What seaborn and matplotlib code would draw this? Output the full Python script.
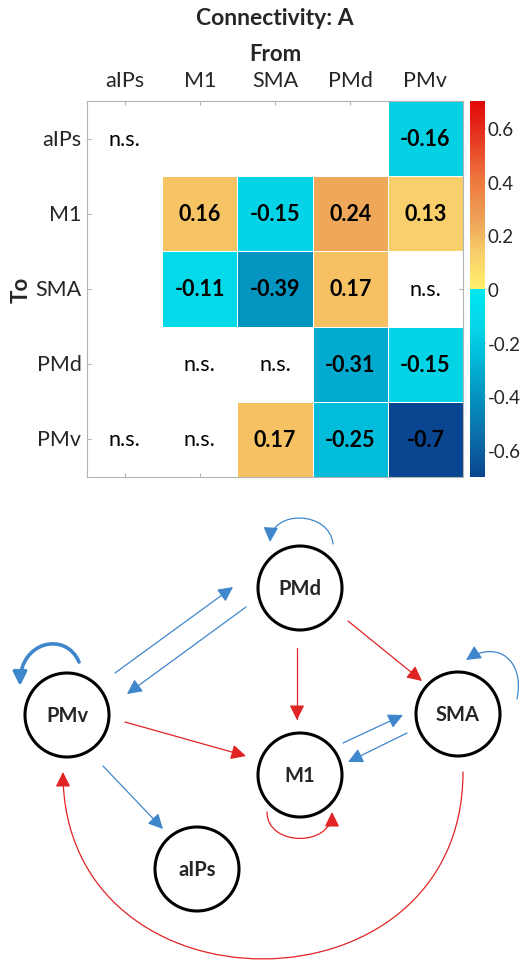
import numpy as np
import pandas as pd
import matplotlib
matplotlib.use("Agg")
import matplotlib.pyplot as plt
import seaborn as sns
from matplotlib.colors import LinearSegmentedColormap
from matplotlib.patches import Circle, FancyArrowPatch
from matplotlib.path import Path

# ==========================================
# DATA
# ==========================================
regions = ["aIPs", "M1", "SMA", "PMd", "PMv"]

# rows = "To", columns = "From"; nan = empty cell
conn_vals = [
    [np.nan, np.nan, np.nan, np.nan, -0.16],
    [np.nan, 0.16, -0.15, 0.24, 0.13],
    [np.nan, -0.11, -0.39, 0.17, np.nan],
    [np.nan, np.nan, np.nan, -0.31, -0.15],
    [np.nan, np.nan, 0.17, -0.25, -0.70],
]
# (row, col) of non significant cells
ns_cells = [(0, 0), (2, 4), (3, 1), (3, 2), (4, 0), (4, 1)]

cbar_ticks = [0.6, 0.4, 0.2, 0, -0.2, -0.4, -0.6]

# ==========================================
# DIAGRAM LAYOUT (pixel space of the figure)
# ==========================================
node_pos = {"PMd": (300, 589), "PMv": (67, 716), "SMA": (458, 715),
            "M1": (300, 776), "aIPs": (197, 870)}
NODE_R = 42

# route of every edge (src, dst): 2 points = straight, 4 points = cubic bezier
edge_routes = {
    ("PMd", "PMd"): [(333, 545), (330, 512), (272, 510), (270, 543)],
    ("PMv", "PMv"): [(79, 663), (66, 632), (20, 642), (20, 687)],
    ("SMA", "SMA"): [(517, 700), (525, 662), (498, 640), (466, 661)],
    ("M1", "M1"): [(267, 813), (267, 848), (332, 848), (332, 813)],
    ("PMv", "PMd"): [(115, 674), (233, 588)],
    ("PMd", "PMv"): [(246, 608), (127, 695)],
    ("PMd", "M1"): [(297, 649), (297, 721)],
    ("PMd", "SMA"): [(348, 622), (422, 682)],
    ("PMv", "M1"): [(125, 723), (246, 757)],
    ("PMv", "aIPs"): [(103, 767), (163, 830)],
    ("M1", "SMA"): [(343, 744), (403, 716)],
    ("SMA", "M1"): [(407, 734), (348, 763)],
    ("SMA", "PMv"): [(463, 773), (463, 1022), (63, 1022), (63, 773)],
}

POS_COLOR = "#e02424"
NEG_COLOR = "#3f86cc"

# ==========================================
# STYLE
# ==========================================
sns.set_style("white")
plt.rcParams["font.family"] = ["Lato", "DejaVu Sans"]
plt.rcParams["axes.unicode_minus"] = False

# piecewise map, split at 0 (cyan below, yellow above)
cmap = LinearSegmentedColormap.from_list(
    "conn",
    [(0.0, "#0a4592"), (0.107, "#0a6eaa"), (0.214, "#0593c0"), (0.279, "#03aad0"),
     (0.321, "#02bcdc"), (0.393, "#05d4e6"), (0.5 - 1e-4, "#00e8f2"),
     (0.5, "#fff06a"), (0.593, "#f8cf6a"), (0.621, "#f5c264"), (0.671, "#efa85a"),
     (0.786, "#ee7a40"), (0.929, "#e42a1a"), (1.0, "#e00808")],
)

FS = 15.5

fig = plt.figure(figsize=(5.2, 9.62), dpi=100)

# ==========================================
# HEATMAP
# ==========================================
W, H = 520.0, 962.0
ax = fig.add_axes([87 / W, 1 - 478 / H, 376 / W, 376 / H])
cax = fig.add_axes([470 / W, 1 - 478 / H, 15 / W, 376 / H])

df = pd.DataFrame(conn_vals, index=regions, columns=regions)
annot = df.map(lambda v: "" if np.isnan(v) else f"{v:g}").values

sns.heatmap(df, mask=df.isna(), cmap=cmap, vmin=-0.7, vmax=0.7,
            annot=annot, fmt="", annot_kws={"size": FS, "weight": "bold", "color": "black"},
            linewidths=0.6, linecolor="white", cbar_ax=cax,
            cbar_kws={"ticks": cbar_ticks}, ax=ax)

for r, c in ns_cells:
    ax.text(c + 0.5, r + 0.5, "n.s.", ha="center", va="center", fontsize=FS, color="black")

for s in ax.spines.values():
    s.set_visible(True)
    s.set_color("#b4b4b4")
    s.set_linewidth(0.8)

ax.xaxis.tick_top()
ax.xaxis.set_label_position("top")
ax.set_xticklabels(regions, rotation=0)
ax.set_yticklabels(regions, rotation=0)
ax.tick_params(direction="in", length=3, color="#b4b4b4", labelsize=FS, labelcolor="#262626",
               top=True, bottom=True, left=True, right=True,
               labeltop=True, labelbottom=False, labelleft=True, labelright=False)
ax.tick_params(axis="x", pad=8)
ax.tick_params(axis="y", pad=4)
ax.set_xlabel("From", fontsize=16, fontweight="bold", labelpad=7)
ax.set_ylabel("To", fontsize=16, fontweight="bold", labelpad=3)
ax.set_title("Connectivity: A", fontsize=16.5, fontweight="bold", y=1.183)

cax.set_yticklabels([f"{t:g}" for t in cbar_ticks])
cax.tick_params(direction="in", length=3, pad=2, color="#808080", labelsize=13.5, labelcolor="#262626")

# ==========================================
# NETWORK DIAGRAM
# ==========================================
ax_net = fig.add_axes([0, 0, 1, 1])
ax_net.set_xlim(0, W)
ax_net.set_ylim(H, 0)
ax_net.axis("off")

for name, (x, y) in node_pos.items():
    ax_net.add_patch(Circle((x, y), NODE_R, facecolor="none", edgecolor="black", lw=2.2))
    ax_net.text(x, y, name, ha="center", va="center", fontsize=14.5, fontweight="bold")

for i, dst in enumerate(regions):
    for j, src in enumerate(regions):
        v = conn_vals[i][j]
        if np.isnan(v) or (src, dst) not in edge_routes:
            continue
        pts = edge_routes[(src, dst)]
        codes = [Path.MOVETO] + ([Path.LINETO] if len(pts) == 2 else [Path.CURVE4] * 3)
        color = POS_COLOR if v > 0 else NEG_COLOR
        lw = 2.6 if abs(v) >= 0.5 else 0.9
        arr = FancyArrowPatch(path=Path(pts, codes), arrowstyle="-|>,head_length=0.9,head_width=0.45",
                              mutation_scale=10 if lw < 2 else 9, color=color, lw=lw, clip_on=False)
        ax_net.add_patch(arr)

fig.savefig("out.png", dpi=100)
